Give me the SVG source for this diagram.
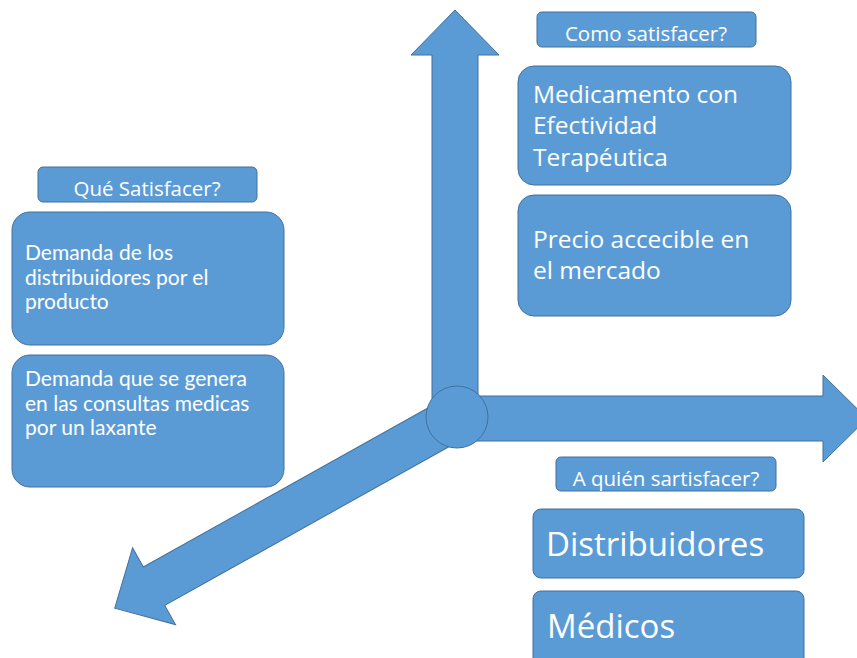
<svg xmlns="http://www.w3.org/2000/svg" width="857" height="658" viewBox="0 0 857 658">
<defs>
<style>
.box{fill:#5B9BD5;stroke:#41719C;stroke-width:1}
.arrow{fill:#5B9BD5;stroke:#41719C;stroke-width:1}
.t{fill:#FFFFFF;font-family:"Open Sans","Liberation Sans",sans-serif}
.tl{fill:#FFFFFF;font-family:Lato,"Liberation Sans",sans-serif;font-size:21px}
.hdr{font-size:20.5px;text-anchor:middle}
.big{font-size:24.5px}
.huge{font-size:33px}
</style>
</defs>
<rect width="857" height="658" fill="#FFFFFF"/>
<g id="connectors">
<polygon class="arrow" transform="translate(457,417) rotate(150.82)" points="0,-22 347,-22 347,-44 392,0 347,44 347,22 0,22"/>
<polygon class="arrow" points="432,417 432,55 411,55 455,10 499,55 478,55 478,417"/>
<polygon class="arrow" points="457,396 823,396 823,375 867,418.5 823,462 823,441 457,441"/>
<circle class="arrow" cx="457" cy="417" r="31"/>
</g>
<g id="como-header">
<rect class="box" x="537" y="12" width="219" height="35" rx="5"/>
<text class="t hdr" x="646" y="41">Como satisfacer?</text>
</g>
<g id="medicamento">
<rect class="box" x="518" y="66" width="273" height="119" rx="16"/>
<text class="t big" x="533" y="103">Medicamento con</text>
<text class="t big" x="533" y="134">Efectividad</text>
<text class="t big" x="533" y="166">Terapéutica</text>
</g>
<g id="precio">
<rect class="box" x="518" y="195" width="273" height="121" rx="16"/>
<text class="t big" x="533" y="248">Precio accecible en</text>
<text class="t big" x="533" y="279">el mercado</text>
</g>
<g id="que-header">
<rect class="box" x="38" y="167" width="219" height="35" rx="5"/>
<text class="t hdr" x="147" y="196">Qué Satisfacer?</text>
</g>
<g id="demanda-distribuidores">
<rect class="box" x="12" y="212" width="272" height="133" rx="18"/>
<text class="tl" x="25" y="260">Demanda de los</text>
<text class="tl" x="25" y="285">distribuidores por el</text>
<text class="tl" x="25" y="309">producto</text>
</g>
<g id="demanda-consultas">
<rect class="box" x="12" y="355" width="272" height="132" rx="18"/>
<text class="tl" x="25" y="386">Demanda que se genera</text>
<text class="tl" x="25" y="411">en las consultas medicas</text>
<text class="tl" x="25" y="435">por un laxante</text>
</g>
<g id="quien-header">
<rect class="box" x="556" y="457" width="220" height="34" rx="5"/>
<text class="t hdr" x="666" y="486">A quién sartisfacer?</text>
</g>
<g id="distribuidores">
<rect class="box" x="533" y="509" width="271" height="69" rx="8"/>
<text class="t huge" x="546" y="556">Distribuidores</text>
</g>
<g id="medicos">
<rect class="box" x="533" y="591" width="271" height="75" rx="8"/>
<text class="t huge" x="547" y="638">Médicos</text>
</g>
</svg>
